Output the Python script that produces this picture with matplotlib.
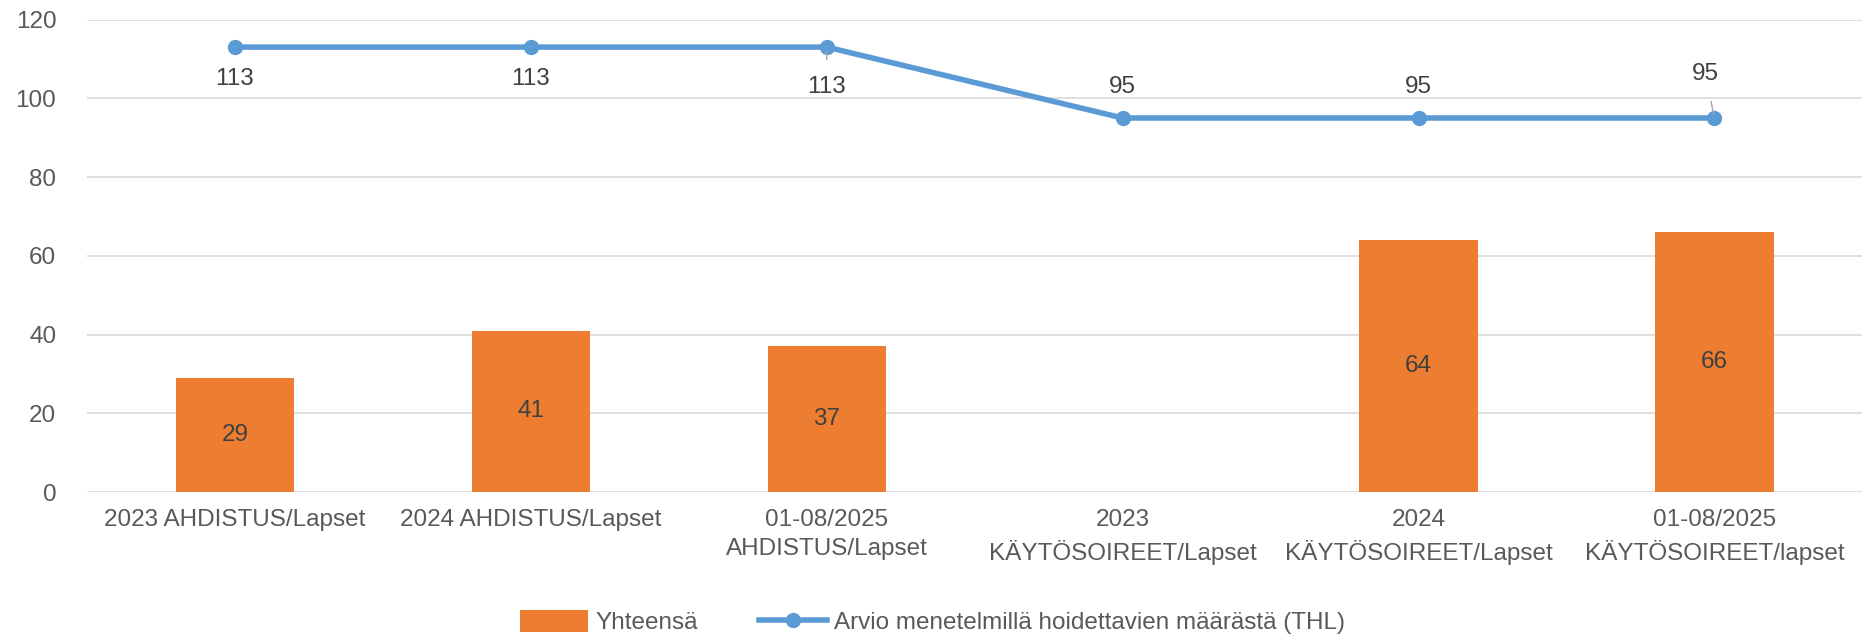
import numpy as np
import matplotlib.pyplot as plt

plt.rcParams['font.family'] = ['Liberation Sans', 'DejaVu Sans']

# data
categories = ['2023 AHDISTUS/Lapset', '2024 AHDISTUS/Lapset', '01-08/2025\nAHDISTUS/Lapset',
              '2023\nKÄYTÖSOIREET/Lapset', '2024\nKÄYTÖSOIREET/Lapset', '01-08/2025\nKÄYTÖSOIREET/lapset']
yhteensa = [29, 41, 37, np.nan, 64, 66]
arvio = [113, 113, 113, 95, 95, 95]
label_below = [True, True, True, False, False, False]

bar_col = '#ED7D31'
line_col = '#5B9BD5'
txt_col = '#404040'
fs = 17.5

fig = plt.figure(figsize=(18.65, 6.4), dpi=100)
ax = fig.add_axes([0.0466, 0.231, 0.952, 0.7385])

x = np.arange(len(categories))
bars = ax.bar(x, yhteensa, width=0.4, color=bar_col, label='Yhteensä', zorder=2)
line, = ax.plot(x, arvio, color=line_col, lw=4, marker='o', ms=10,
                label='Arvio menetelmillä hoidettavien määrästä (THL)', zorder=3)

# bar labels in the middle of each bar
for xi, v in zip(x, yhteensa):
    if not np.isnan(v):
        ax.text(xi, v / 2, f'{v:.0f}', ha='center', va='center', fontsize=fs, color=txt_col)

# line labels
for i, (xi, v) in enumerate(zip(x, arvio)):
    if label_below[i]:
        dy = -40 if i == 2 else -32
    else:
        dy = 44 if i == len(x) - 1 else 31
    dx = -9 if i == len(x) - 1 else 0
    lead = i in (2, len(x) - 1)
    ax.annotate(str(v), (xi, v), xytext=(dx, dy), textcoords='offset pixels',
                ha='center', va='center', fontsize=fs, color=txt_col,
                arrowprops=dict(arrowstyle='-', color='#a6a6a6', lw=1, shrinkA=10, shrinkB=3) if lead else None)

ax.set_xlim(-0.5, len(x) - 0.5)
ax.set_ylim(0, 120)
ax.set_yticks(range(0, 121, 20))
ax.set_xticks(x)
ax.set_xticklabels(categories, linespacing=1.45)
ax.tick_params(axis='both', length=0, labelsize=fs, colors='#595959')
ax.tick_params(axis='x', pad=12)
ax.tick_params(axis='y', pad=22)
ax.grid(axis='y', color='#d9d9d9', lw=1.2, zorder=0)
ax.set_axisbelow(True)
for s in ax.spines.values():
    s.set_visible(False)

fig.legend([bars, line], ['Yhteensä', 'Arvio menetelmillä hoidettavien määrästä (THL)'],
           loc='center', bbox_to_anchor=(0.5, 0.028), ncol=2, frameon=False, fontsize=fs,
           handlelength=2.8, handleheight=1.0, handletextpad=0.3, columnspacing=2.5,
           labelcolor='#595959')

fig.savefig('out.png', dpi=100)
